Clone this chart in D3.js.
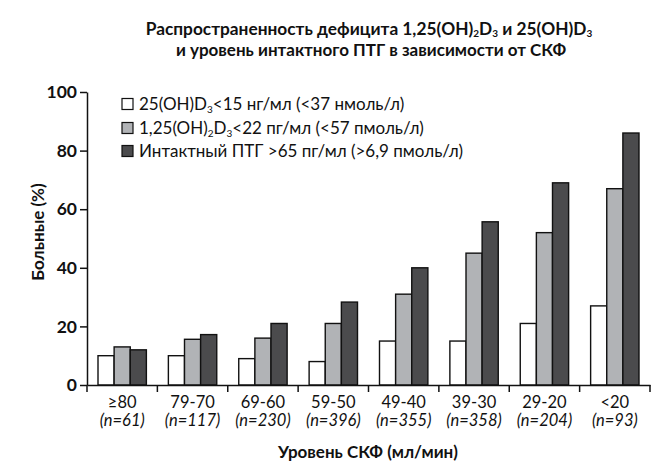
<!DOCTYPE html>
<html>
<head>
<meta charset="utf-8">
<script src="https://cdn.jsdelivr.net/npm/d3@7"></script>
<style>
  body { margin: 0; background: #fff; }
  svg { font-family: Lato, "Open Sans", sans-serif; }
</style>
</head>
<body>
<div id="chart"></div>
<script>
const groups = ["≥80", "79-70", "69-60", "59-50", "49-40", "39-30", "29-20", "<20"];
const counts = ["(n=61)", "(n=117)", "(n=230)", "(n=396)", "(n=355)", "(n=358)", "(n=204)", "(n=93)"];
const vitD25 = [10, 10, 9, 8, 15, 15, 21, 27];
const vitD125 = [13, 15.6, 16, 21, 31, 45, 52, 67];
const pth = [12, 17.2, 21, 28.3, 40, 55.7, 69, 86];
const yTicks = [0, 20, 40, 60, 80, 100];

const seriesKeys = ["d25", "d125", "pth"];
const colors = { d25: "#ffffff", d125: "#b1b3b6", pth: "#4b4b4d" };

const width = 655, height = 465;
const plotLeft = 87, plotRight = 650, plotTop = 92, plotBottom = 385;
const font = "Lato, 'Open Sans', sans-serif";

const svg = d3.select("#chart").append("svg")
    .attr("width", width)
    .attr("height", height);

// title with subscripts
const title = svg.append("text")
    .attr("x", 369).attr("y", 35)
    .attr("text-anchor", "middle")
    .attr("fill", "#111")
    .attr("font-weight", "bold").attr("font-size", 17.3);
title.append("tspan").text("Распространенность дефицита 1,25(OH)");
title.append("tspan").attr("font-size", 10).attr("dy", 2).text("2");
title.append("tspan").attr("dy", -2).text("D");
title.append("tspan").attr("font-size", 10).attr("dy", 2).text("3");
title.append("tspan").attr("dy", -2).text(" и 25(OH)D");
title.append("tspan").attr("font-size", 10).attr("dy", 2).text("3");
svg.append("text")
    .attr("x", 371).attr("y", 56)
    .attr("text-anchor", "middle")
    .attr("fill", "#111")
    .attr("font-weight", "bold").attr("font-size", 17)
    .text("и уровень интактного ПТГ в зависимости от СКФ");

const x0 = d3.scaleBand().domain(groups).range([plotLeft, plotRight]).padding(0);
const x1 = d3.scaleBand().domain(seriesKeys).range([11, x0.bandwidth() - 11]).padding(0);
const y = d3.scaleLinear().domain([0, 100]).range([plotBottom, plotTop]);

const rows = groups.map((g, i) => ({ g, d25: vitD25[i], d125: vitD125[i], pth: pth[i] }));

// bars
svg.append("g").selectAll("g")
    .data(rows)
    .join("g")
    .attr("transform", d => "translate(" + x0(d.g) + ",0)")
    .selectAll("rect")
    .data(d => seriesKeys.map(k => ({ k, v: d[k] })))
    .join("rect")
    .attr("x", d => x1(d.k))
    .attr("width", x1.bandwidth())
    .attr("y", d => y(d.v))
    .attr("height", d => plotBottom - y(d.v))
    .attr("fill", d => colors[d.k])
    .attr("stroke", "#111")
    .attr("stroke-width", 1.4);

// y axis
const yAxis = svg.append("g")
    .attr("transform", "translate(" + plotLeft + ",0)")
    .call(d3.axisLeft(y).tickValues(yTicks).tickSize(7).tickSizeOuter(0));
yAxis.select(".domain").attr("stroke", "#111").attr("stroke-width", 1.5);
yAxis.selectAll(".tick line").attr("stroke", "#111").attr("stroke-width", 1.5);
yAxis.selectAll(".tick text")
    .attr("x", -10)
    .attr("font-size", 17.5).attr("font-weight", "bold")
    .attr("fill", "#111")
    .attr("font-family", font);

// x axis
const xAxis = svg.append("g")
    .attr("transform", "translate(0," + plotBottom + ")")
    .call(d3.axisBottom(x0).tickSize(0).tickSizeOuter(0));
xAxis.select(".domain").attr("stroke", "#111").attr("stroke-width", 1.5);
xAxis.selectAll(".tick text")
    .attr("y", 11)
    .attr("font-size", 16.5)
    .attr("fill", "#111")
    .attr("font-family", font);
xAxis.selectAll(".tick").append("text")
    .attr("y", 41)
    .attr("fill", "#111")
    .attr("font-size", 16.5)
    .attr("font-style", "italic")
    .attr("font-family", font)
    .text((d, i) => counts[i]);

// boundary ticks on x axis
const bounds = groups.map(g => x0(g)).concat([plotRight]);
xAxis.selectAll(".bound")
    .data(bounds)
    .join("line")
    .attr("class", "bound")
    .attr("x1", d => d).attr("x2", d => d)
    .attr("y1", 0).attr("y2", 7)
    .attr("stroke", "#111").attr("stroke-width", 1.5);

// axis titles
svg.append("text")
    .attr("transform", "translate(44,232) rotate(-90)")
    .attr("text-anchor", "middle")
    .attr("font-weight", "bold").attr("font-size", 17)
    .attr("fill", "#111")
    .text("Больные (%)");

svg.append("text")
    .attr("x", 368).attr("y", 458)
    .attr("text-anchor", "middle")
    .attr("font-weight", "bold").attr("font-size", 17)
    .attr("fill", "#111")
    .text("Уровень СКФ (мл/мин)");

// legend
const legend = svg.append("g");
const legendY = [104, 128, 151];
seriesKeys.forEach((k, i) => {
  const row = legend.append("g").attr("transform", "translate(122," + legendY[i] + ")");
  row.append("rect")
      .attr("x", 0).attr("y", -5.5)
      .attr("width", 11).attr("height", 11)
      .attr("fill", colors[k])
      .attr("stroke", "#111").attr("stroke-width", 1.2);
  const t = row.append("text")
      .attr("x", 17).attr("y", 6)
      .attr("font-size", 17)
      .attr("fill", "#111");
  if (k === "d25") {
    t.append("tspan").text("25(OH)D");
    t.append("tspan").attr("font-size", 10).attr("dy", 3).text("3");
    t.append("tspan").attr("dy", -3).text("<15 нг/мл (<37 нмоль/л)");
  } else if (k === "d125") {
    t.append("tspan").text("1,25(OH)");
    t.append("tspan").attr("font-size", 10).attr("dy", 3).text("2");
    t.append("tspan").attr("dy", -3).text("D");
    t.append("tspan").attr("font-size", 10).attr("dy", 3).text("3");
    t.append("tspan").attr("dy", -3).text("<22 пг/мл (<57 пмоль/л)");
  } else {
    t.text("Интактный ПТГ >65 пг/мл (>6,9 пмоль/л)");
  }
});
</script>
</body>
</html>
